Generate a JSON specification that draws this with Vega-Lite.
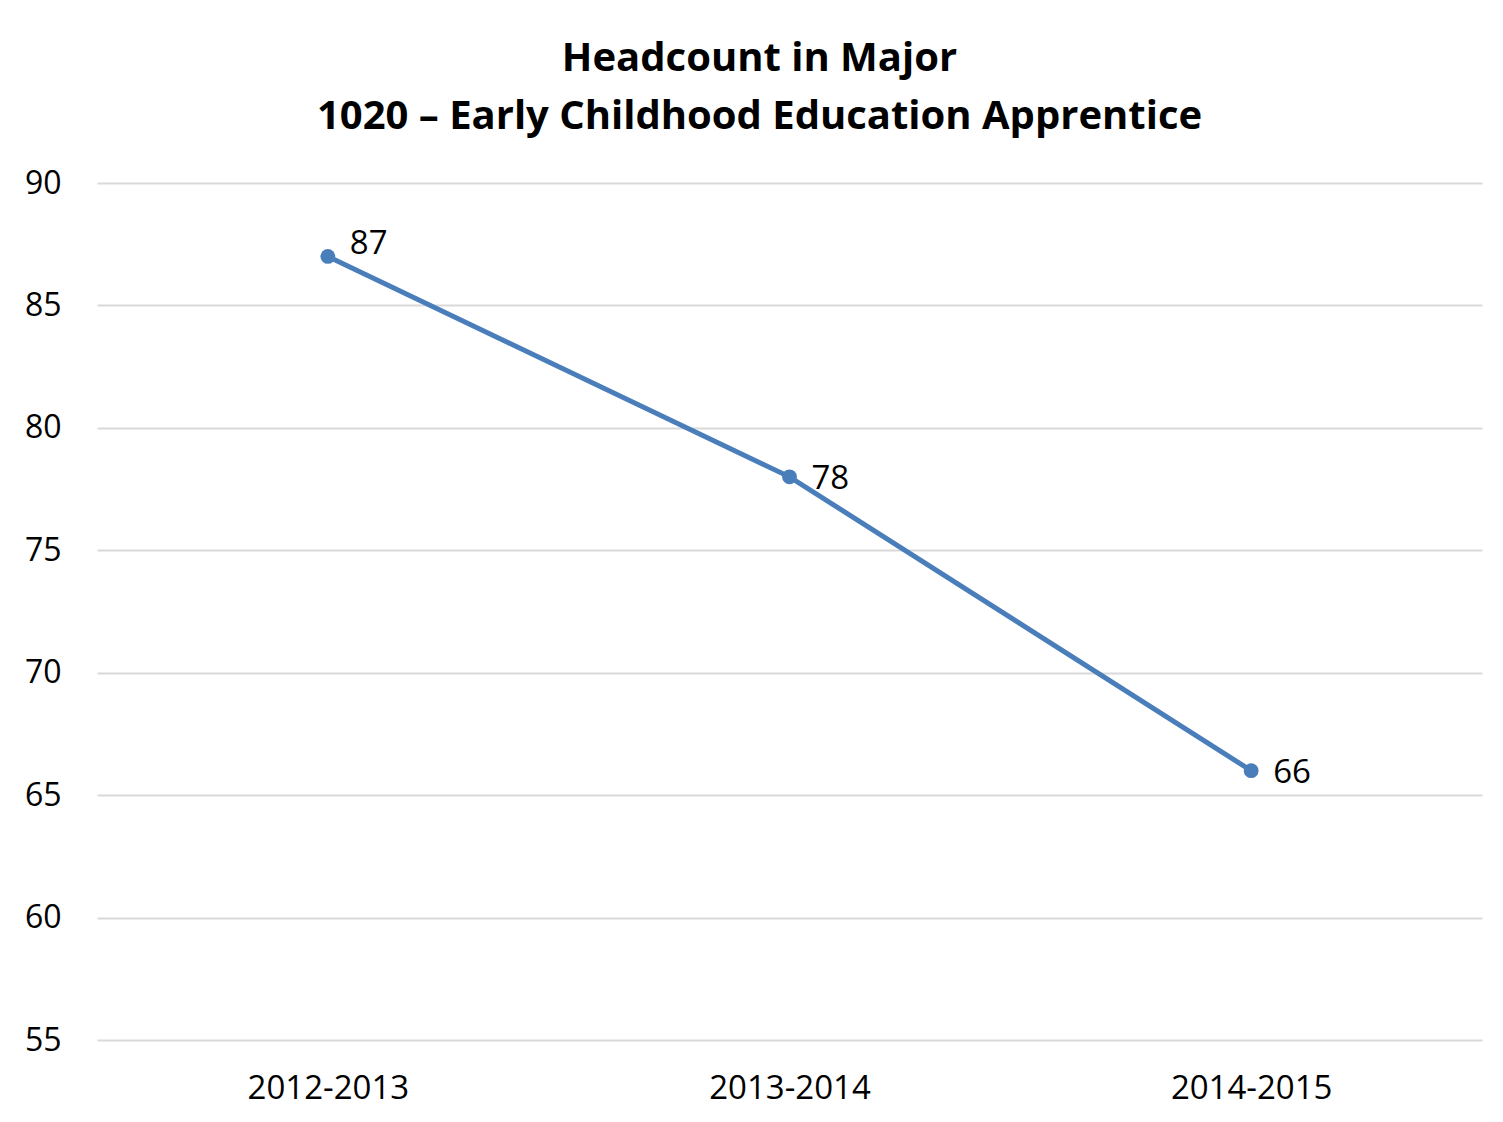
{
  "$schema": "https://vega.github.io/schema/vega-lite/v6.json",
  "autosize": "none",
  "width": 1385,
  "height": 857,
  "padding": {"left": 97, "top": 183, "right": 21, "bottom": 82},
  "background": "white",
  "config": {
    "view": {"stroke": null},
    "font": "Open Sans"
  },
  "title": {
    "text": ["Headcount in Major", "1020 – Early Childhood Education Apprentice"],
    "font": "Open Sans",
    "fontSize": 40,
    "fontWeight": "bold",
    "color": "#000000",
    "anchor": "middle",
    "frame": "group",
    "dx": -30,
    "lineHeight": 58,
    "offset": 30
  },
  "data": {
    "values": [
      {"year": "2012-2013", "headcount": 87},
      {"year": "2013-2014", "headcount": 78},
      {"year": "2014-2015", "headcount": 66}
    ]
  },
  "encoding": {
    "x": {
      "field": "year",
      "type": "ordinal",
      "scale": {"type": "point", "padding": 0.5},
      "axis": {
        "title": null,
        "labelAngle": 0,
        "labelFont": "Open Sans",
        "labelFontSize": 33,
        "labelColor": "#000000",
        "labelPadding": 32,
        "domain": false,
        "ticks": false,
        "grid": false
      }
    },
    "y": {
      "field": "headcount",
      "type": "quantitative",
      "scale": {"domain": [55, 90], "nice": false, "zero": false},
      "axis": {
        "title": null,
        "values": [55, 60, 65, 70, 75, 80, 85, 90],
        "labelFont": "Open Sans",
        "labelFontSize": 32,
        "labelColor": "#000000",
        "labelPadding": 36,
        "domain": false,
        "ticks": false,
        "grid": true,
        "gridColor": "#d9d9d9",
        "gridWidth": 2
      }
    }
  },
  "layer": [
    {
      "mark": {"type": "line", "color": "#4a7ebb", "strokeWidth": 5}
    },
    {
      "mark": {"type": "point", "filled": true, "color": "#4a7ebb", "size": 220, "opacity": 1}
    },
    {
      "transform": [{"filter": "datum.headcount != 87"}],
      "mark": {"type": "text", "align": "left", "baseline": "middle", "dx": 22, "dy": 2, "fontSize": 33, "font": "Open Sans", "color": "#000000"},
      "encoding": {"text": {"field": "headcount", "type": "quantitative"}}
    },
    {
      "transform": [{"filter": "datum.headcount == 87"}],
      "mark": {"type": "text", "align": "left", "baseline": "middle", "dx": 22, "dy": -12, "fontSize": 33, "font": "Open Sans", "color": "#000000"},
      "encoding": {"text": {"field": "headcount", "type": "quantitative"}}
    }
  ]
}
